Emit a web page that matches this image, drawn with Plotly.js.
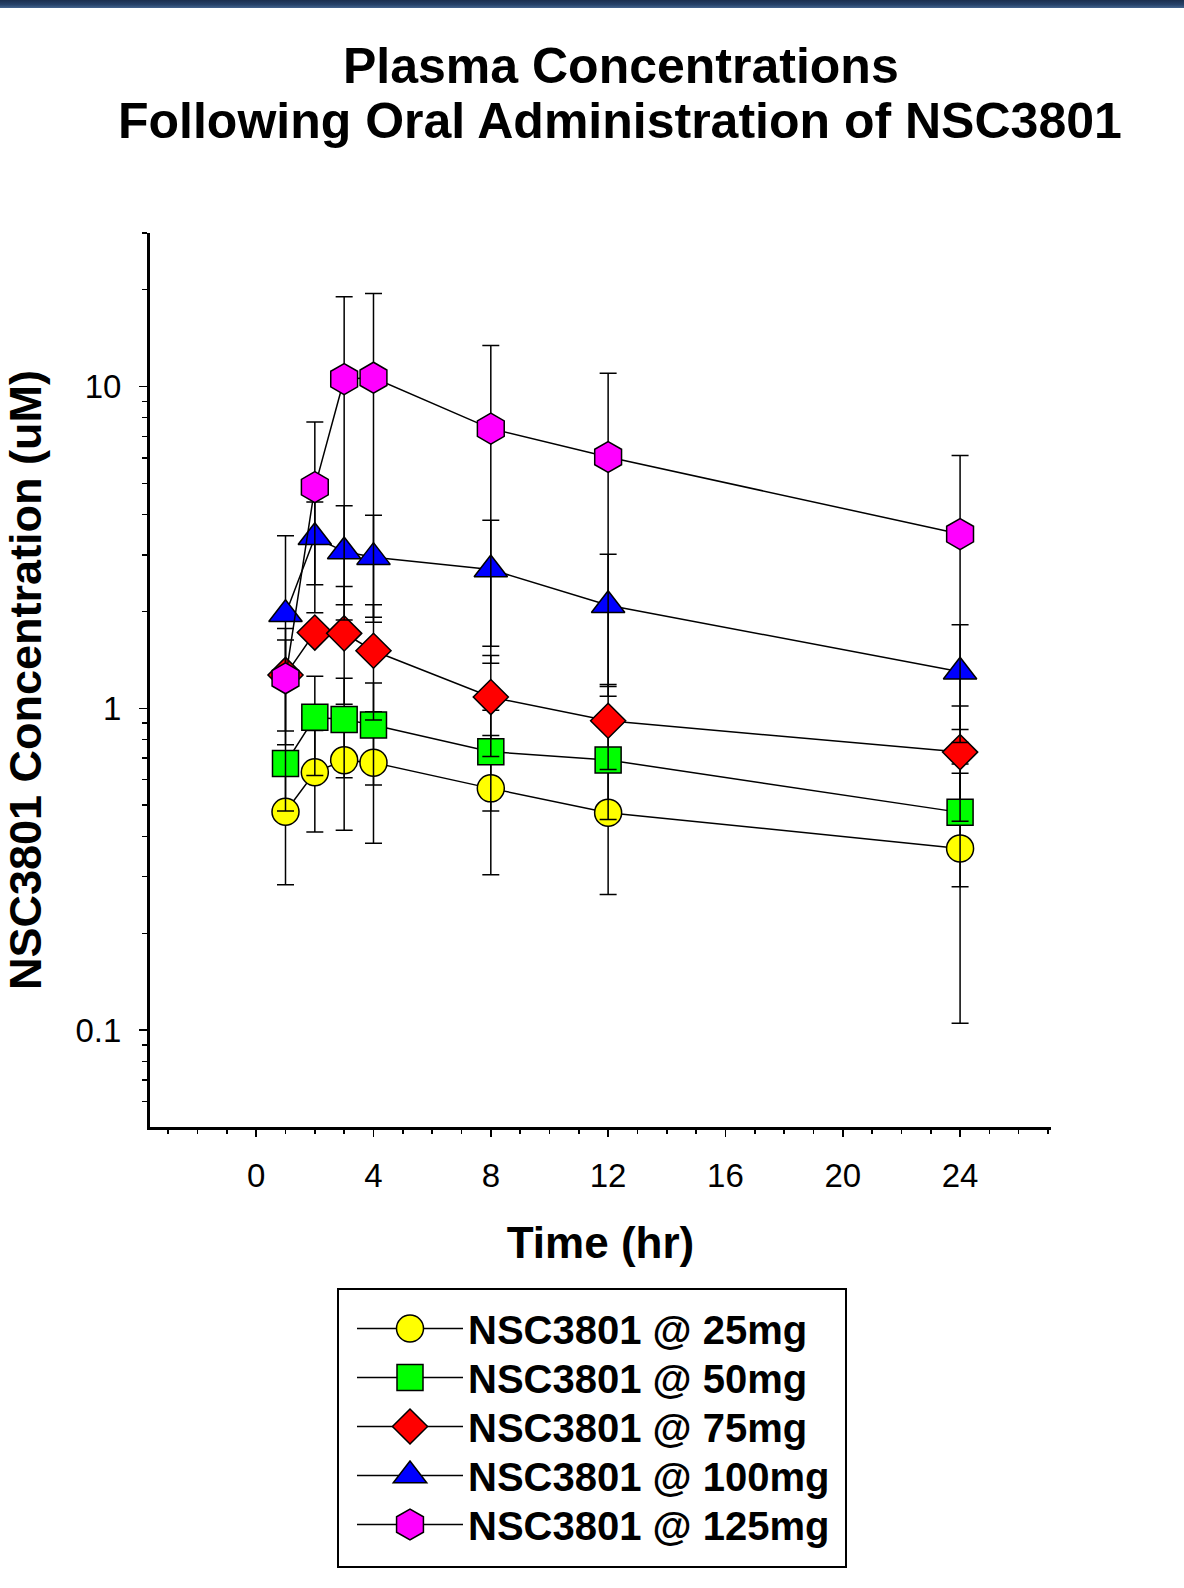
<!DOCTYPE html>
<html>
<head>
<meta charset="utf-8">
<script src="https://cdn.plot.ly/plotly-3.0.1.min.js"></script>
<style>
html, body { margin: 0; padding: 0; background: #ffffff; overflow: hidden; width: 1184px; height: 1588px; }
#chart { position: absolute; left: 0; top: 0; width: 1184px; height: 1588px; overflow: hidden; }
#topbar { position: absolute; left: 0; top: 0; width: 1184px; height: 8px; z-index: 10;
  background: linear-gradient(#1b2f4e, #27436a 60%, #46668f); }
#bottomfill { position: absolute; left: 0; top: 1572px; width: 1184px; height: 16px; z-index: 20; background: #ffffff; }
</style>
</head>
<body>
<div id="chart"></div>
<div id="topbar"></div>
<div id="bottomfill"></div>
<script>
// ---- data ----
const timeHr = [1, 2, 3, 4, 8, 12, 24];

const seriesNames = ["NSC3801 @ 25mg", "NSC3801 @ 50mg", "NSC3801 @ 75mg", "NSC3801 @ 100mg", "NSC3801 @ 125mg"];

const conc25mg  = [0.477, 0.633, 0.690, 0.678, 0.564, 0.474, 0.367];
const conc50mg  = [0.674, 0.938, 0.924, 0.888, 0.733, 0.691, 0.475];
const conc75mg  = [1.27, 1.72, 1.71, 1.51, 1.084, 0.915, 0.731];
const conc100mg = [1.96, 3.40, 3.07, 2.95, 2.70, 2.09, 1.30];
const conc125mg = [1.24, 4.87, 10.55, 10.65, 7.40, 6.04, 3.48];

const sd25mg  = [0.194, 0.22, 0.272, 0.297, 0.26, 0.21, 0.262];
const sd50mg  = [0.05, 0.32, 0.316, 0.31, 0.253, 0.24, 0.196];
const sd75mg  = [0.5, 0.1, 0.68, 0.59, 0.376, 0.27, 0.285];
const sd100mg = [1.48, 0.98, 1.19, 1.03, 1.14, 0.92, 0.517];
const sd125mg = [0.39, 2.89, 8.45, 8.8, 6.02, 4.95, 2.62];

const xTickVals = [0, 4, 8, 12, 16, 20, 24];
const yTickVals = [0.1, 1, 10];
const yTickText = ["0.1", "1", "10"];
const yMinorTickVals = [0.06, 0.07, 0.08, 0.09, 0.2, 0.3, 0.4, 0.5, 0.6, 0.7, 0.8, 0.9,
                        2, 3, 4, 5, 6, 7, 8, 9, 20, 30];

// ---- styling ----
const FONT = "Liberation Sans, Arial, Helvetica, sans-serif";
const W = 1184, H = 1588;
const M = { l: 150, r: 133, t: 233, b: 461 };
const plotW = W - M.l - M.r, plotH = H - M.t - M.b;
const px2x = p => (p - M.l) / plotW;
const px2y = p => (H - M.b - p) / plotH;

const concs = [conc25mg, conc50mg, conc75mg, conc100mg, conc125mg];
const sds = [sd25mg, sd50mg, sd75mg, sd100mg, sd125mg];
const styles = [
  { symbol: "circle",      color: "#ffff00", size: 27 },
  { symbol: "square",      color: "#00ff00", size: 26 },
  { symbol: "diamond",     color: "#ff0000", size: 27 },
  { symbol: "triangle-up", color: "#0000ff", size: 29 },
  { symbol: "hexagon",     color: "#ff00ff", size: 31 }
];
const legendIds = ["legend", "legend2", "legend3", "legend4", "legend5"];

const traces = concs.map((c, i) => ({
  type: "scatter",
  mode: "lines+markers",
  name: seriesNames[i],
  legend: legendIds[i],
  x: timeHr,
  y: c,
  line: { color: "#000000", width: 1.5 },
  marker: { symbol: styles[i].symbol, size: styles[i].size, color: styles[i].color,
            line: { color: "#000000", width: 1.5 } },
  error_y: { type: "data", array: sds[i], symmetric: true, visible: true,
             color: "#000000", thickness: 1.5, width: 8.5 },
  cliponaxis: false
}));

const layout = {
  width: W, height: H,
  margin: M,
  paper_bgcolor: "#ffffff",
  plot_bgcolor: "#ffffff",
  font: { family: FONT, color: "#000000" },
  showlegend: true,
  xaxis: {
    type: "linear",
    range: [-3.62, 27.1],
    showgrid: false, zeroline: false,
    showline: true, linecolor: "#000000", linewidth: 3,
    ticks: "outside", ticklen: 7, tickwidth: 1.5, tickcolor: "#000000",
    tickmode: "array", tickvals: xTickVals,
    tickfont: { family: FONT, size: 33, color: "#000000" },
    ticklabelstandoff: 10,
    minor: { dtick: 1, tick0: 0, ticks: "outside", ticklen: 4, tickwidth: 1.5, tickcolor: "#000000", showgrid: false },
    title: { text: "Time (hr)", font: { family: FONT, size: 44, weight: "bold", color: "#000000" }, standoff: 35 }
  },
  yaxis: {
    type: "log",
    range: [Math.log10(0.05), Math.log10(30)],
    showgrid: false, zeroline: false,
    showline: true, linecolor: "#000000", linewidth: 3,
    ticks: "outside", ticklen: 8, tickwidth: 1.5, tickcolor: "#000000",
    tickmode: "array", tickvals: yTickVals, ticktext: yTickText,
    tickfont: { family: FONT, size: 33, color: "#000000" },
    ticklabelstandoff: 11,
    minor: { tickmode: "array", tickvals: yMinorTickVals, ticks: "outside", ticklen: 5, tickwidth: 1.5, tickcolor: "#000000", showgrid: false },
    title: { text: "NSC3801 Concentration (uM)", font: { family: FONT, size: 45, weight: "bold", color: "#000000" }, standoff: 24.5 }
  },
  shapes: [
    { type: "rect", xref: "paper", yref: "paper", layer: "above",
      x0: px2x(338), x1: px2x(846), y0: px2y(1567), y1: px2y(1289),
      line: { color: "#000000", width: 2 }, fillcolor: "rgba(0,0,0,0)" }
  ],
  annotations: [
    { text: "Plasma Concentrations", xref: "paper", yref: "paper",
      x: px2x(621), y: px2y(66), xanchor: "center", yanchor: "middle", showarrow: false,
      font: { family: FONT, size: 50, weight: "bold", color: "#000000" } },
    { text: "Following Oral Administration of NSC3801", xref: "paper", yref: "paper",
      x: px2x(620), y: px2y(121.5), xanchor: "center", yanchor: "middle", showarrow: false,
      font: { family: FONT, size: 50, weight: "bold", color: "#000000" } }
  ]
};

// one legend per series row so rows sit at the reference spacing
legendIds.forEach((id, i) => {
  layout[id] = {
    x: px2x(352), xanchor: "left",
    y: px2y(1330 + 49 * i - 1.5), yanchor: "middle",
    borderwidth: 0, bgcolor: "rgba(0,0,0,0)",
    font: { family: FONT, size: 40, weight: "bold", color: "#000000" },
    itemwidth: 106
  };
});

Plotly.newPlot("chart", traces, layout, { staticPlot: true, displayModeBar: false }).then(gd => {
  // enlarge legend symbols to the plotted marker size
  const tracePts = gd.querySelectorAll(".scatterlayer .trace");
  const legPts = gd.querySelectorAll(".legendpoints path.scatterpts");
  legendIds.forEach((id, i) => {
    const lp = legPts[i];
    const pp = tracePts[i] && tracePts[i].querySelector(".points path.point");
    if (!lp || !pp) return;
    const hL = lp.getBBox().height, hP = pp.getBBox().height;
    if (!hL || !hP) return;
    const s = hP / hL;
    const t = lp.getAttribute("transform") || "";
    lp.setAttribute("transform", t + " scale(" + s + ")");
    lp.style.strokeWidth = (1.5 / s) + "px";
  });
});
</script>
</body>
</html>
